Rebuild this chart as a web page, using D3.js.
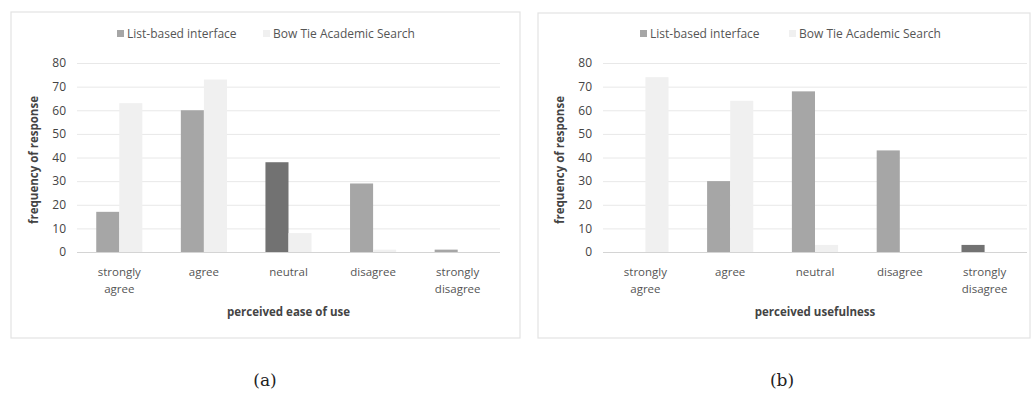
<!DOCTYPE html>
<html><head><meta charset="utf-8">
<script src="https://cdn.jsdelivr.net/npm/d3@7"></script>
<style>
html,body{margin:0;padding:0;background:#fff;}
svg{display:block;}
</style></head>
<body>
<svg id="chart" width="1034" height="394"></svg>
<script>
// ---- data ----
const categories = ["strongly agree", "agree", "neutral", "disagree", "strongly disagree"];
const seriesNames = ["List-based interface", "Bow Tie Academic Search"];
const easeList   = [17, 60, 38, 29, 1];
const easeBowTie = [63, 73, 8, 1, 0];
const usefulList   = [0, 30, 68, 43, 3];
const usefulBowTie = [74, 64, 3, 0, 0];
const yTicks = [0, 10, 20, 30, 40, 50, 60, 70, 80];
const xTitles = ["perceived ease of use", "perceived usefulness"];
const yTitle = "frequency of response";
const captions = ["(a)", "(b)"];

// ---- layout / style ----
const svg = d3.select("#chart");
const panels = [
  {box:[11,12,509,326], plot:[77,500], tickX:66, yTitleX:38, legendX:117, legend2X:263,
   list: easeList, bow: easeBowTie, xt: xTitles[0], cap: captions[0], capX:265, dark:"neutral"},
  {box:[538,13,492,325], plot:[603,1027], tickX:592, yTitleX:564, legendX:640, legend2X:789,
   list: usefulList, bow: usefulBowTie, xt: xTitles[1], cap: captions[1], capX:782, dark:"strongly disagree"}
];
const listColor = "#a6a6a6", listDark = "#727272", bowColor = "#f0f0f0";
const y = d3.scaleLinear().domain([0, 80]).range([252, 63]);
const font = "'Open Sans', 'Liberation Sans', sans-serif";

panels.forEach(p => {
  const g = svg.append("g");
  g.append("rect").attr("x", p.box[0]).attr("y", p.box[1]).attr("width", p.box[2]).attr("height", p.box[3])
    .attr("fill", "#fff").attr("stroke", "#e3e3e3").attr("stroke-width", 1.2);

  const x0 = d3.scaleBand().domain(categories).range(p.plot).paddingInner(0.455).paddingOuter(0.2275);
  const x1 = d3.scaleBand().domain(seriesNames).range([0, x0.bandwidth()]);

  // gridlines
  g.append("g").selectAll("line").data(yTicks.slice(1)).join("line")
    .attr("x1", p.plot[0]).attr("x2", p.plot[1])
    .attr("y1", d => y(d) + 0.5).attr("y2", d => y(d) + 0.5)
    .attr("stroke", "#e8e8e8").attr("stroke-width", 1);

  // y axis tick labels
  const yAxis = d3.axisLeft(y).tickValues(yTicks).tickSize(0).tickPadding(0);
  const ya = g.append("g").attr("transform", `translate(${p.tickX},0)`).call(yAxis);
  ya.select(".domain").remove();
  ya.selectAll("text").attr("font-family", font).attr("font-size", 12).attr("fill", "#444");

  // bars
  const rows = categories.map((c, i) => ({c, vals: [p.list[i], p.bow[i]]}));
  const grp = g.append("g").selectAll("g").data(rows).join("g")
    .attr("transform", d => `translate(${x0(d.c)},0)`);
  grp.selectAll("rect").data(d => d.vals.map((v, k) => ({c: d.c, s: seriesNames[k], v, k}))).join("rect")
    .attr("x", d => x1(d.s)).attr("width", x1.bandwidth())
    .attr("y", d => y(d.v)).attr("height", d => y(0) - y(d.v))
    .attr("fill", d => d.k === 1 ? bowColor : (d.c === p.dark ? listDark : listColor));

  // baseline
  g.append("line").attr("x1", p.plot[0]).attr("x2", p.plot[1]).attr("y1", y(0) + 0.5).attr("y2", y(0) + 0.5)
    .attr("stroke", "#d4d4d4");

  // x axis labels
  const xa = g.append("g");
  categories.forEach(c => {
    const words = c.split(" ");
    const t = xa.append("text").attr("x", x0(c) + x0.bandwidth() / 2).attr("y", 276)
      .attr("text-anchor", "middle").attr("font-family", font).attr("font-size", 11.5).attr("fill", "#555");
    words.forEach((w, i) => t.append("tspan").attr("x", x0(c) + x0.bandwidth() / 2).attr("dy", i === 0 ? 0 : 17).text(w));
  });

  // axis titles
  g.append("text").attr("x", (p.plot[0] + p.plot[1]) / 2).attr("y", 316).attr("text-anchor", "middle")
    .attr("font-family", font).attr("font-size", 11.5).attr("font-weight", "bold").attr("fill", "#444").text(p.xt);
  g.append("text").attr("transform", `translate(${p.yTitleX},160) rotate(-90)`).attr("text-anchor", "middle")
    .attr("font-family", font).attr("font-size", 11.5).attr("font-weight", "bold").attr("fill", "#444").text(yTitle);

  // legend
  const lg = g.append("g");
  [p.legendX, p.legend2X].forEach((lx, k) => {
    lg.append("rect").attr("x", lx).attr("y", 30).attr("width", 7).attr("height", 7)
      .attr("fill", k === 0 ? listColor : bowColor);
    lg.append("text").attr("x", lx + 10).attr("y", 38).attr("font-family", font).attr("font-size", 12)
      .attr("fill", "#555").text(seriesNames[k]);
  });

  // caption
  svg.append("text").attr("x", p.capX).attr("y", 386).attr("text-anchor", "middle")
    .attr("font-family", "'DejaVu Serif', 'Liberation Serif', serif").attr("font-size", 17).attr("fill", "#222").text(p.cap);
});
</script>
</body></html>
